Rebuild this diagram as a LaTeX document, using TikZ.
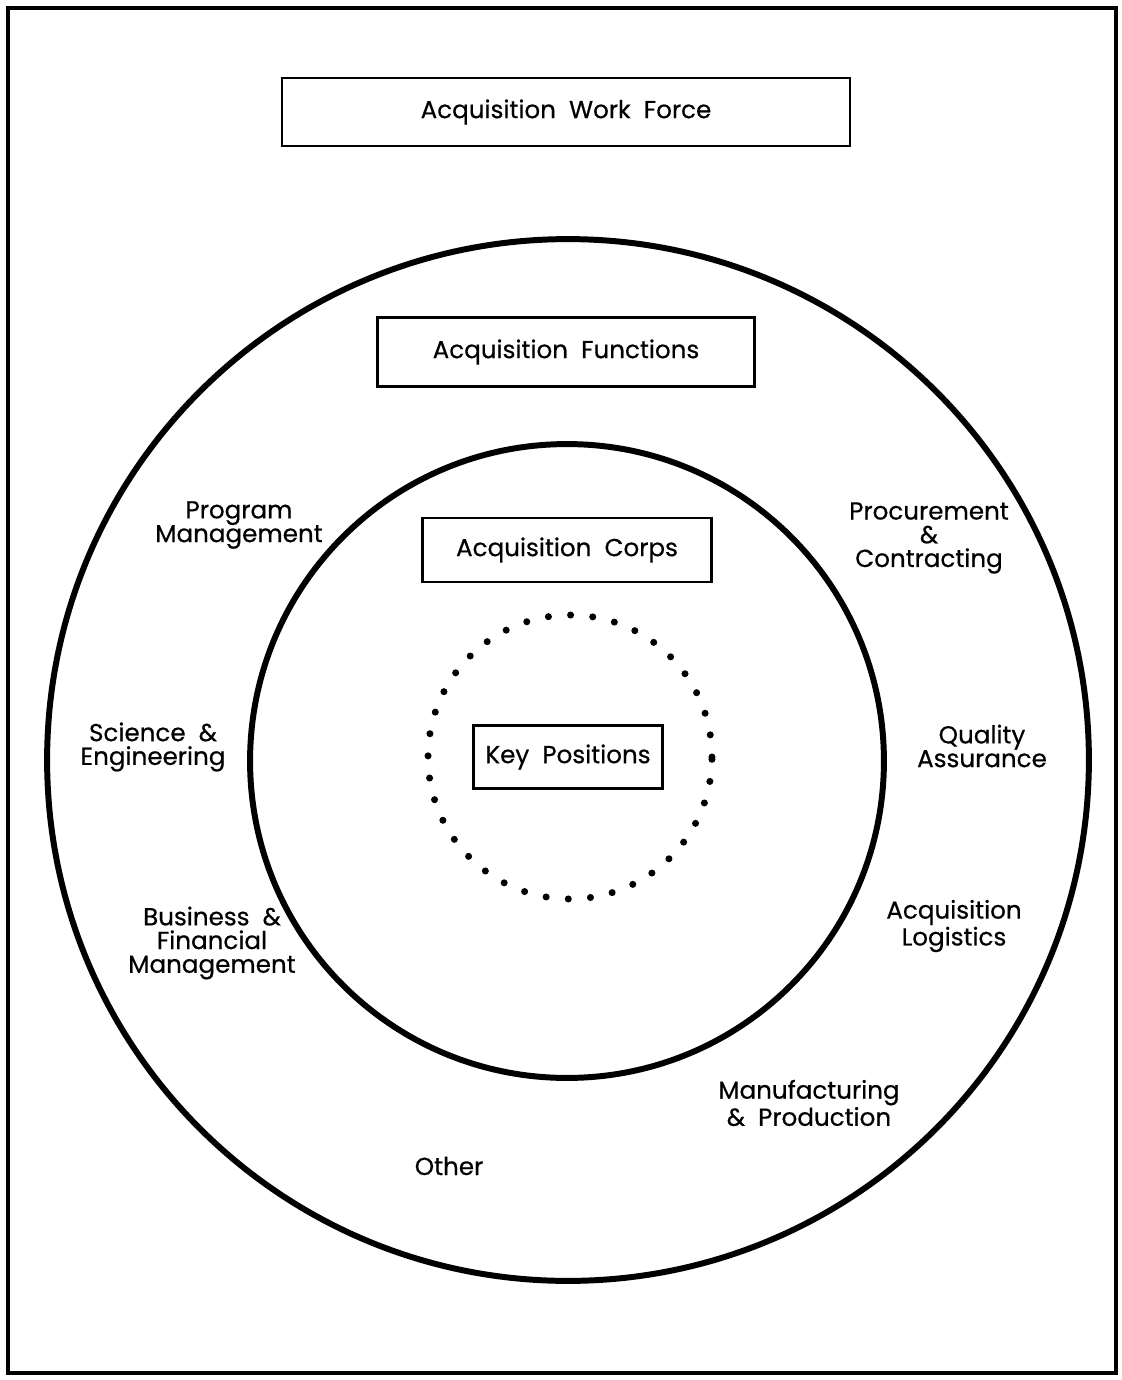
\documentclass[tikz,border=0pt]{standalone}
\usepackage{fontspec}
\setmainfont{Poppins}[FakeBold=0.5]
\tikzset{
  framebox/.style={draw, line width=1.4pt, inner sep=0pt},
  ring/.style={line width=3.4pt},
  keyring/.style={line width=4pt, line cap=round, dash pattern=on 0pt off 0.445cm},
  fn/.style={align=center, font=\fontsize{14}{13.5}\selectfont},
  boxtext/.style={font=\fontsize{14}{16}\selectfont}
}
\begin{document}
\begin{tikzpicture}[x=0.02cm, y=-0.02cm]
\useasboundingbox (0,0) rectangle (1122,1380);
\draw[line width=1.8pt] (8,8) rectangle (1116,1373);
% the rings
\coordinate (C_out) at (568,760);
\coordinate (C_in) at (567,761);
\coordinate (C_key) at (570,757);
\draw[ring] (C_out) circle[radius=10.42cm];
\draw[ring] (C_in) circle[radius=6.34cm];
\draw[keyring] (C_key) circle[radius=2.84cm];
% the boxes
\node[framebox, boxtext, minimum width=11.36cm, minimum height=1.36cm] (B_force) at (566,112) {Acquisition\ \ Work\ \ Force};
\node[framebox, boxtext, minimum width=7.54cm, minimum height=1.38cm] (B_func) at (566,352) {Acquisition\ \ Functions};
\node[framebox, boxtext, minimum width=5.78cm, minimum height=1.28cm] (B_corps) at (567,550) {Acquisition\ \ Corps};
\node[framebox, boxtext, minimum width=3.78cm, minimum height=1.26cm] (B_key) at (568,757) {Key\ \ Positions};
% the functions
\node[fn] (F_prog) at (239,525) {Program\\Management};
\node[fn] (F_sci) at (153,747) {Science\ \ \&\\Engineering};
\node[fn] (F_bus) at (212,943) {Business\ \ \&\\Financial\\Management};
\node[fn] (F_other) at (449,1166) {Other};
\node[fn] (F_manu) at (809,1103) {Manufacturing\\\&\ \ Production};
\node[fn] (F_log) at (954,926) {Acquisition\\Logistics};
\node[fn] (F_qual) at (982,746) {Quality\\Assurance};
\node[fn] (F_proc) at (929,538) {Procurement\\\&\\Contracting};
\end{tikzpicture}
\end{document}
